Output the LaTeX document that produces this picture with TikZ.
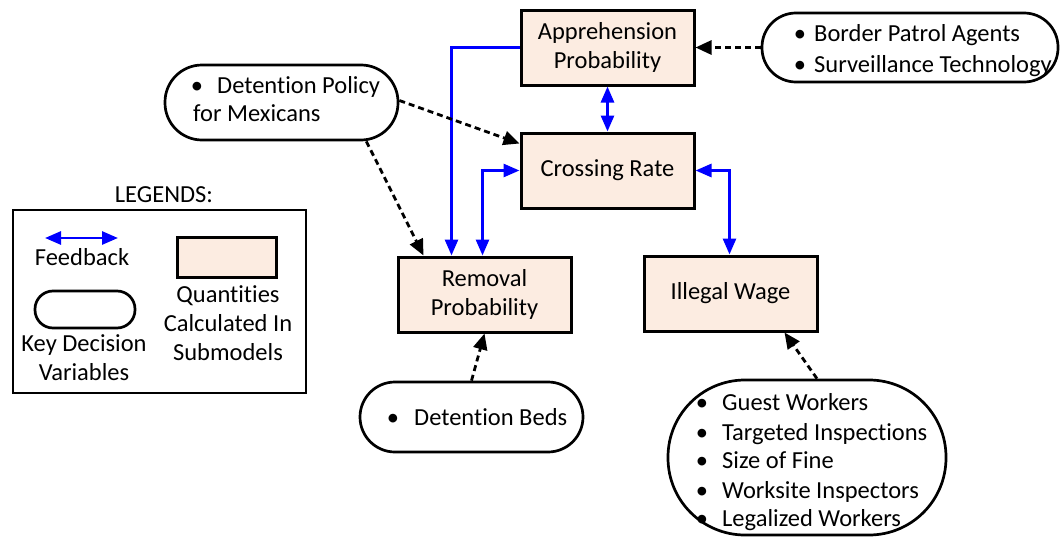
\documentclass[tikz,border=0pt]{standalone}
\usepackage{fontspec}
\setmainfont{Carlito}[Ligatures=CommonOff]
\usetikzlibrary{arrows.meta}
\definecolor{boxfill}{RGB}{252,236,225}
\definecolor{fbblue}{RGB}{0,0,255}
\begin{document}
\begin{tikzpicture}[x=1pt,y=-1pt,
  every node/.style={font=\fontsize{24.5}{29}\selectfont, inner sep=0pt},
  box/.style={draw, line width=3pt, fill=boxfill, minimum width=173pt, minimum height=75pt, align=center},
  pill/.style={draw, line width=2.7pt, rounded corners=#1},
  pill/.default=30pt,
  fb/.style={draw=fbblue, line width=2.8pt, {Triangle[length=16pt,width=13pt]}-{Triangle[length=16pt,width=13pt]}},
  fbone/.style={draw=fbblue, line width=2.8pt, -{Triangle[length=16pt,width=13pt]}},
  dep/.style={draw=black, line width=2.8pt, dash pattern=on 6pt off 4pt, -{Triangle[length=16pt,width=14pt]}},
  lbl/.style={anchor=base west},
  bul/.style={anchor=base},
]
\useasboundingbox (0,0) rectangle (1060,538);

% main boxes
\node[box] (appr) at (607.5,47.5) {Apprehension\\Probability};
\node[box] (cross) at (607.5,170.5) {Crossing Rate};
\node[box] (rem) at (484.5,294.5) {Removal\\Probability};
\node[box] (ill) at (730.5,293.5) {Illegal Wage};

% decision pills
\node[pill=34pt, minimum width=296pt, minimum height=69pt] (bp) at (910,47.5) {};
\node[pill=37pt, minimum width=233pt, minimum height=75pt] (dp) at (281.5,102.5) {};
\node[pill=35pt, minimum width=223pt, minimum height=70pt] (db) at (471.5,417) {};
\node[pill=77pt, minimum width=278pt, minimum height=155pt] (ws) at (807,457.5) {};

% pill texts
\node[bul] (bpb1) at (800,41) {\textbullet};
\node[lbl] (bpt1) at (814,41) {Border Patrol Agents};
\node[bul] (bpb2) at (800,72) {\textbullet};
\node[lbl] (bpt2) at (814,72) {Surveillance Technology};

\node[bul] (dpb1) at (197,93) {\textbullet};
\node[lbl] (dpt1) at (217,93) {Detention Policy};
\node[lbl] (dpt2) at (193,121) {for Mexicans};

\node[bul] (dbb1) at (393,425) {\textbullet};
\node[lbl] (dbt1) at (414,425) {Detention Beds};

\node[bul] (wsb1) at (702,410) {\textbullet};
\node[lbl] (wst1) at (722,410) {Guest Workers};
\node[bul] (wsb2) at (702,440) {\textbullet};
\node[lbl] (wst2) at (722,440) {Targeted Inspections};
\node[bul] (wsb3) at (702,468) {\textbullet};
\node[lbl] (wst3) at (722,468) {Size of Fine};
\node[bul] (wsb4) at (702,498) {\textbullet};
\node[lbl] (wst4) at (722,498) {Worksite Inspectors};
\node[bul] (wsb5) at (702,526) {\textbullet};
\node[lbl] (wst5) at (722,526) {Legalized Workers};

% feedback connectors
\draw[fbone] (appr.west) -| ([xshift=55pt]rem.north west);
\draw[fb] (appr.south) -- (cross.north);
\draw[fb] (cross.west) -| ([xshift=86pt]rem.north west);
\draw[fb] (cross.east) -| ([xshift=87pt]ill.north west);

% decision influences
\draw[dep] (bp.west) -- (appr.east);
\draw[dep] ([yshift=2pt]dp.east) -- ([yshift=-12pt]cross.north west);
\draw[dep] ([xshift=-33pt]dp.south east) -- ([xshift=-61pt]rem.north);
\draw[dep] (db.north) -- (rem.south);
\draw[dep] ([xshift=10pt]ws.north) -- ([xshift=-34pt]ill.south east);

% legend
\node (legt) at (164,195) {LEGENDS:};
\node[draw, line width=2.8pt, minimum width=293pt, minimum height=183pt] (leg) at (159.5,301.5) {};
\coordinate (fa) at (45,238);
\coordinate (fz) at (118,238);
\draw[fb] (fa) -- (fz);
\node (legfb) at (82,257) {Feedback};
\node[pill=18pt, minimum width=100pt, minimum height=37pt] (legpill) at (85,309.5) {};
\node[align=center] (legkd) at (84,357.5) {Key Decision\\Variables};
\node[box, minimum width=99pt, minimum height=40pt] (legbox) at (226.5,257) {};
\node[align=center] (legq) at (228,323) {Quantities\\Calculated In\\Submodels};
\end{tikzpicture}
\end{document}
